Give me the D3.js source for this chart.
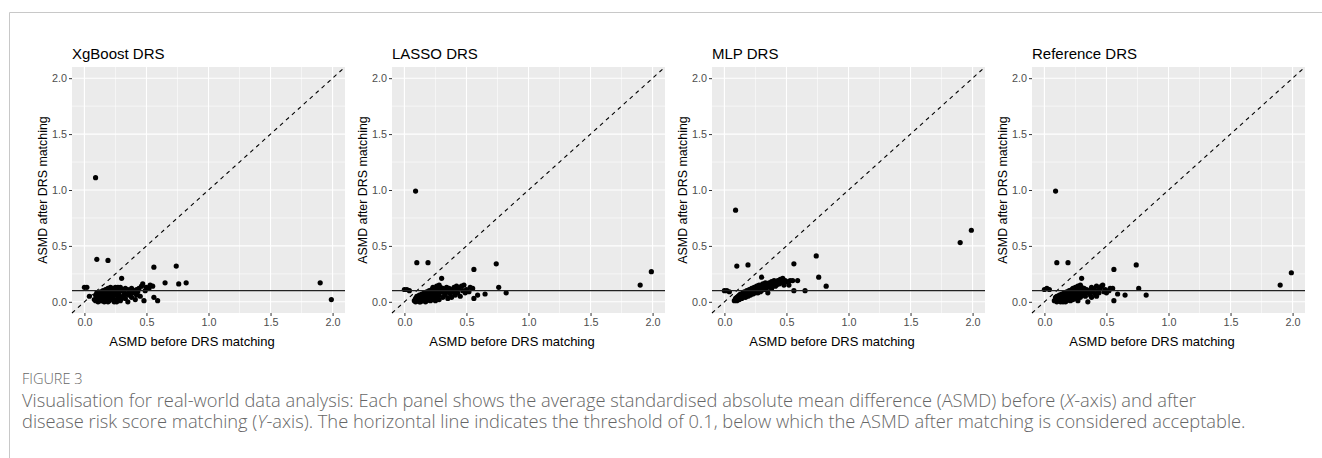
<!DOCTYPE html>
<html lang="en">
<head>
  <meta charset="UTF-8">
  <title>ASMD before and after DRS matching</title>
  <script src="https://d3js.org/d3.v7.min.js"></script>
  <style>
    body {
      margin: 0;
      background: #fff;
    }
    .panel-title { font-family: "Liberation Sans", Arial, sans-serif; font-size: 15px; fill: #000; }
    .axis-title { font-family: "Liberation Sans", Arial, sans-serif; fill: #000; }
    .axis text { font-family: "Liberation Sans", Arial, sans-serif; font-size: 10.8px; fill: #4d4d4d; }
    .axis line { stroke: #333; }
    .axis path { display: none; }
    .caption { font-family: "Open Sans", "Noto Sans", sans-serif; font-weight: 300; fill: #666; }
  </style>
</head>
<body>
  <div id="chart"></div>

  <script>
    // panels, in order
    const panels = ["XgBoost DRS", "LASSO DRS", "MLP DRS", "Reference DRS"];

    // ASMD before matching (same covariates in every panel)
    const asmdBefore = [
      0.00, 0.02, 0.04, 0.09, 0.10, 0.19, 0.30, 0.56, 0.74, 0.76, 0.82, 1.90, 1.99, 0.65, 0.56, 0.59, 0.55,
      0.08, 0.09, 0.09, 0.10, 0.10, 0.11, 0.11, 0.12, 0.12, 0.13, 0.13, 0.14, 0.14, 0.15, 0.15, 0.16, 0.16, 0.17, 0.17, 0.18,
      0.18, 0.19, 0.19, 0.20, 0.20, 0.21, 0.21, 0.22, 0.22, 0.23, 0.23, 0.24, 0.24, 0.25, 0.25, 0.26, 0.26, 0.27, 0.27, 0.28,
      0.28, 0.29, 0.29, 0.31, 0.31, 0.32, 0.33, 0.33, 0.34, 0.35, 0.35, 0.36, 0.37, 0.38, 0.38, 0.39, 0.40, 0.41, 0.42, 0.42,
      0.43, 0.44, 0.45, 0.46, 0.47, 0.48, 0.49, 0.50, 0.52, 0.53,
      0.11, 0.13, 0.15, 0.17, 0.19, 0.21, 0.23, 0.25, 0.27, 0.12, 0.14, 0.16, 0.18, 0.20, 0.22, 0.24, 0.26, 0.28, 0.30, 0.30
    ];

    // ASMD after matching, one array per DRS model
    const afterXgb = [
      0.13, 0.13, 0.05, 1.11, 0.38, 0.37, 0.21, 0.31, 0.32, 0.16, 0.17, 0.17, 0.02, 0.17, 0.04, 0.01, 0.14,
      0.02, 0.06, 0.01, 0.08, 0.03, 0.05, 0.00, 0.07, 0.02, 0.09, 0.04, 0.01, 0.06, 0.10, 0.03, 0.07, 0.00, 0.11, 0.04, 0.08,
      0.02, 0.12, 0.05, 0.10, 0.01, 0.13, 0.06, 0.09, 0.03, 0.12, 0.05, 0.10, 0.00, 0.13, 0.07, 0.11, 0.02, 0.09, 0.04, 0.12,
      0.06, 0.13, 0.01, 0.10, 0.05, 0.08, 0.12, 0.03, 0.07, 0.11, 0.00, 0.06, 0.09, 0.12, 0.04, 0.08, 0.10, 0.02, 0.11, 0.06,
      0.09, 0.12, 0.05, 0.14, 0.16, 0.01, 0.10, 0.13, 0.12, 0.15,
      0.08, 0.01, 0.06, 0.09, 0.00, 0.10, 0.02, 0.10, 0.13, 0.04, 0.08, 0.05, 0.11, 0.04, 0.12, 0.06, 0.00, 0.09, 0.11, 0.03
    ];
    const afterLasso = [
      0.11, 0.11, 0.10, 0.99, 0.35, 0.35, 0.21, 0.29, 0.34, 0.13, 0.08, 0.15, 0.27, 0.07, 0.03, 0.06, 0.12,
      0.01, 0.03, 0.00, 0.05, 0.02, 0.04, 0.01, 0.02, 0.06, 0.03, 0.00, 0.07, 0.02, 0.05, 0.01, 0.08, 0.03, 0.06, 0.00, 0.09,
      0.04, 0.07, 0.02, 0.10, 0.05, 0.08, 0.01, 0.11, 0.04, 0.13, 0.07, 0.02, 0.10, 0.12, 0.05, 0.14, 0.08, 0.03, 0.11, 0.15,
      0.06, 0.10, 0.13, 0.04, 0.12, 0.08, 0.11, 0.06, 0.13, 0.09, 0.03, 0.12, 0.07, 0.11, 0.04, 0.09, 0.13, 0.06, 0.10, 0.14,
      0.08, 0.12, 0.05, 0.14, 0.10, 0.15, 0.08, 0.11, 0.09, 0.13,
      0.02, 0.05, 0.03, 0.07, 0.09, 0.06, 0.09, 0.01, 0.07, 0.00, 0.04, 0.06, 0.01, 0.08, 0.02, 0.12, 0.10, 0.02, 0.09, 0.12
    ];
    const afterMlp = [
      0.10, 0.10, 0.09, 0.82, 0.32, 0.33, 0.22, 0.34, 0.41, 0.22, 0.14, 0.53, 0.64, 0.10, 0.10, 0.19, 0.19,
      0.01, 0.02, 0.03, 0.04, 0.01, 0.03, 0.05, 0.02, 0.06, 0.04, 0.07, 0.03, 0.06, 0.08, 0.04, 0.05, 0.09, 0.07, 0.04, 0.10,
      0.06, 0.08, 0.05, 0.11, 0.07, 0.09, 0.06, 0.12, 0.08, 0.10, 0.07, 0.13, 0.09, 0.11, 0.08, 0.14, 0.10, 0.12, 0.08, 0.15,
      0.11, 0.13, 0.09, 0.16, 0.12, 0.14, 0.17, 0.11, 0.15, 0.13, 0.08, 0.17, 0.14, 0.18, 0.12, 0.16, 0.19, 0.14, 0.18, 0.15,
      0.19, 0.16, 0.20, 0.17, 0.21, 0.15, 0.19, 0.18, 0.15, 0.19,
      0.02, 0.05, 0.06, 0.05, 0.09, 0.11, 0.12, 0.13, 0.14, 0.04, 0.05, 0.08, 0.08, 0.09, 0.10, 0.11, 0.12, 0.13, 0.15, 0.10
    ];
    const afterRef = [
      0.11, 0.12, 0.11, 0.99, 0.35, 0.35, 0.21, 0.29, 0.33, 0.12, 0.06, 0.15, 0.26, 0.06, 0.01, 0.07, 0.12,
      0.01, 0.04, 0.02, 0.05, 0.00, 0.03, 0.01, 0.06, 0.02, 0.04, 0.00, 0.07, 0.02, 0.05, 0.01, 0.08, 0.03, 0.06, 0.00, 0.09,
      0.03, 0.07, 0.02, 0.10, 0.04, 0.08, 0.01, 0.11, 0.05, 0.12, 0.02, 0.09, 0.06, 0.13, 0.03, 0.10, 0.07, 0.14, 0.05, 0.12,
      0.08, 0.15, 0.04, 0.10, 0.07, 0.12, 0.09, 0.05, 0.11, 0.08, 0.00, 0.10, 0.06, 0.13, 0.04, 0.09, 0.11, 0.07, 0.14, 0.05,
      0.10, 0.08, 0.12, 0.14, 0.15, 0.09, 0.11, 0.08, 0.10, 0.12,
      0.04, 0.06, 0.00, 0.05, 0.09, 0.10, 0.07, 0.11, 0.01, 0.03, 0.04, 0.06, 0.01, 0.07, 0.03, 0.12, 0.04, 0.10, 0.06, 0.13
    ];
    const afterSeries = [afterXgb, afterLasso, afterMlp, afterRef];

    const ticks = [0, 0.5, 1, 1.5, 2];
    const minorTicks = [0.25, 0.75, 1.25, 1.75];
    const threshold = 0.1;

    const captionLabel = "FIGURE 3";
    const captionLine1 = ["Visualisation for real-world data analysis: Each panel shows the average standardised absolute mean difference (ASMD) before (", "X", "-axis) and after"];
    const captionLine2 = ["disease risk score matching (", "Y", "-axis). The horizontal line indicates the threshold of 0.1, below which the ASMD after matching is considered acceptable."];

    const width = 1322, height = 458;
    const panelW = 273, panelH = 246, panelTop = 67, firstLeft = 72, step = 320;

    const svg = d3.select("#chart").append("svg")
      .attr("width", width)
      .attr("height", height);

    // page frame
    svg.append("path")
      .attr("d", `M9.5,${height}V12.5H${width}`)
      .attr("fill", "none")
      .attr("stroke", "#c8c8c8");

    const x = d3.scaleLinear().domain([-0.1, 2.1]).range([0, panelW]);
    const y = d3.scaleLinear().domain([-0.1, 2.1]).range([panelH, 0]);

    panels.forEach((name, i) => {
      const g = svg.append("g")
        .attr("transform", `translate(${firstLeft + step * i},${panelTop})`);

      g.append("rect")
        .attr("width", panelW)
        .attr("height", panelH)
        .attr("fill", "#ebebeb");

      // grid
      g.selectAll(".minor-x").data(minorTicks).enter().append("line")
        .attr("x1", d => x(d)).attr("x2", d => x(d))
        .attr("y1", 0).attr("y2", panelH)
        .attr("stroke", "#fff").attr("stroke-width", 0.55);
      g.selectAll(".minor-y").data(minorTicks).enter().append("line")
        .attr("y1", d => y(d)).attr("y2", d => y(d))
        .attr("x1", 0).attr("x2", panelW)
        .attr("stroke", "#fff").attr("stroke-width", 0.55);
      g.selectAll(".major-x").data(ticks).enter().append("line")
        .attr("x1", d => x(d)).attr("x2", d => x(d))
        .attr("y1", 0).attr("y2", panelH)
        .attr("stroke", "#fff").attr("stroke-width", 1.1);
      g.selectAll(".major-y").data(ticks).enter().append("line")
        .attr("y1", d => y(d)).attr("y2", d => y(d))
        .attr("x1", 0).attr("x2", panelW)
        .attr("stroke", "#fff").attr("stroke-width", 1.1);

      // points
      const pts = asmdBefore.map((b, k) => ({ before: b, after: afterSeries[i][k] }));
      g.selectAll("circle").data(pts).enter().append("circle")
        .attr("cx", d => x(d.before))
        .attr("cy", d => y(d.after))
        .attr("r", 2.6)
        .attr("fill", "#000");

      // y = x reference
      g.append("line")
        .attr("x1", x(-0.1)).attr("y1", y(-0.1))
        .attr("x2", x(2.1)).attr("y2", y(2.1))
        .attr("stroke", "#000").attr("stroke-width", 1.1)
        .attr("stroke-dasharray", "4,4");

      // threshold
      g.append("line")
        .attr("x1", 0).attr("x2", panelW)
        .attr("y1", y(threshold)).attr("y2", y(threshold))
        .attr("stroke", "#222").attr("stroke-width", 1.1);

      // axes
      g.append("g")
        .attr("class", "axis")
        .call(d3.axisLeft(y).tickValues(ticks).tickFormat(d3.format(".1f")).tickSize(3).tickPadding(2));
      g.append("g")
        .attr("class", "axis")
        .attr("transform", `translate(0,${panelH})`)
        .call(d3.axisBottom(x).tickValues(ticks).tickFormat(d3.format(".1f")).tickSize(3).tickPadding(2));

      g.append("text")
        .attr("class", "panel-title")
        .attr("x", 0).attr("y", -8.5)
        .text(name);

      g.append("text")
        .attr("class", "axis-title")
        .attr("font-size", "13px")
        .attr("text-anchor", "middle")
        .attr("x", 120).attr("y", panelH + 33)
        .text("ASMD before DRS matching");

      g.append("text")
        .attr("class", "axis-title")
        .attr("font-size", "12.4px")
        .attr("text-anchor", "middle")
        .attr("transform", `translate(-25.5,${panelH / 2}) rotate(-90)`)
        .text("ASMD after DRS matching");
    });

    // caption
    svg.append("text")
      .attr("class", "caption")
      .attr("x", 22).attr("y", 384)
      .attr("font-size", "14.5px")
      .attr("font-weight", 400)
      .attr("fill", "#707070")
      .text(captionLabel);

    function captionText(parts, yPos) {
      const t = svg.append("text")
        .attr("class", "caption")
        .attr("x", 22).attr("y", yPos)
        .attr("font-size", "16px");
      parts.forEach((p, k) => {
        t.append("tspan")
          .attr("font-style", k === 1 ? "italic" : null)
          .text(p);
      });
      return t;
    }
    const l1 = captionText(captionLine1, 407);
    const l2 = captionText(captionLine2, 428);
    // fit the first line to the width of the original
    const fs = 16 * 1175 / l1.node().getComputedTextLength();
    l1.attr("font-size", fs + "px");
    l2.attr("font-size", fs + "px");
  </script>
</body>
</html>
